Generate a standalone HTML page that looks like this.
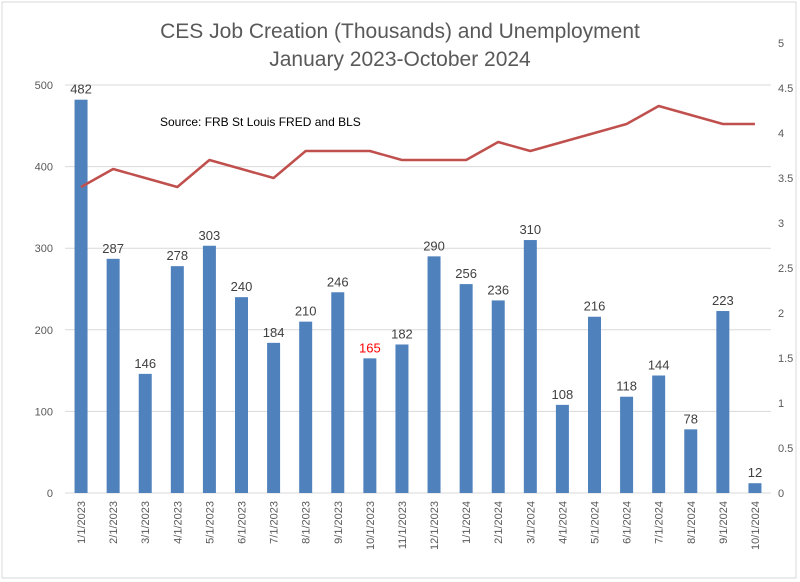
<!DOCTYPE html>
<html><head><meta charset="utf-8"><style>
body{margin:0;background:#fff;}
svg{display:block;font-family:"Liberation Sans",Calibri,sans-serif;}
</style></head><body>
<svg id="chart" width="800" height="582" viewBox="0 0 800 582">
<rect x="2" y="2" width="794" height="576" fill="#fff" stroke="#d9d9d9"/>
<text x="400" y="38" text-anchor="middle" font-size="21" fill="#595959">CES Job Creation (Thousands) and Unemployment</text>
<text x="400" y="66" text-anchor="middle" font-size="21" fill="#595959">January 2023-October 2024</text>
<text x="160" y="126" font-size="12" fill="#000">Source: FRB St Louis FRED and BLS</text>
<g id="grid"></g><g id="bars"></g><g id="line"></g><g id="labels"></g>
</svg>
<script>
const categories=["1/1/2023","2/1/2023","3/1/2023","4/1/2023","5/1/2023","6/1/2023","7/1/2023","8/1/2023","9/1/2023","10/1/2023","11/1/2023","12/1/2023","1/1/2024","2/1/2024","3/1/2024","4/1/2024","5/1/2024","6/1/2024","7/1/2024","8/1/2024","9/1/2024","10/1/2024"];
const jobs=[482,287,146,278,303,240,184,210,246,165,182,290,256,236,310,108,216,118,144,78,223,12];
const unemployment=[3.4,3.6,3.5,3.4,3.7,3.6,3.5,3.8,3.8,3.8,3.7,3.7,3.7,3.9,3.8,3.9,4.0,4.1,4.3,4.2,4.1,4.1];
const leftTicks=[0,100,200,300,400,500];
const rightTicks=[0,0.5,1,1.5,2,2.5,3,3.5,4,4.5,5];
const NS="http://www.w3.org/2000/svg";
const x0=65,x1=771,yBase=493;
const step=(x1-x0)/categories.length;
const xc=i=>x0+step*(i+0.5);
const yL=v=>yBase-v*(408/500);
const yR=v=>yBase-v*90;
function mk(tag,attrs,parent,text){const e=document.createElementNS(NS,tag);for(const k in attrs)e.setAttribute(k,attrs[k]);if(text!==undefined)e.textContent=text;document.getElementById(parent).appendChild(e);return e;}
leftTicks.forEach(t=>{
  const g=mk('line',{x1:x0,x2:x1,y1:yL(t),y2:yL(t),stroke:'#d9d9d9','stroke-width':1},'grid');
  
  
  const l=mk('text',{x:53,y:yL(t)+4,'text-anchor':'end','font-size':11,fill:'#595959'},'grid',String(t));
  
  
});
rightTicks.forEach(t=>{
  const l=mk('text',{x:778,y:yR(t)+4,'font-size':11,fill:'#595959'},'grid',String(t));
  
  
});
jobs.forEach((v,i)=>{
  const b=mk('rect',{x:xc(i)-6.5,y:yL(v),width:13,height:yBase-yL(v),fill:'#4f81bd'},'bars');
  
  
  const t=mk('text',{x:xc(i),y:yL(v)-6,'text-anchor':'middle','font-size':13,fill:i===9?'#ff0000':'#404040'},'labels',String(v));
  
  
  const c=mk('text',{transform:`translate(${xc(i)+4},${yBase+8}) rotate(-90)`,'text-anchor':'end','font-size':11,fill:'#595959'},'labels',categories[i]);
  
  
});
const p=mk('polyline',{points:unemployment.map((v,i)=>xc(i)+','+yR(v)).join(' '),fill:'none',stroke:'#c0504d','stroke-width':2.5,'stroke-linejoin':'round'},'line');


</script>
</body></html>
